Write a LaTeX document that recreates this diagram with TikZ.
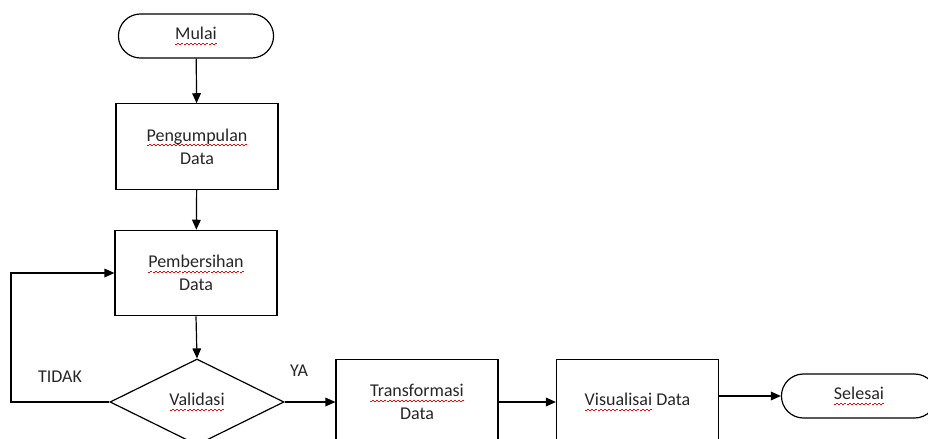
\documentclass[tikz,border=0pt]{standalone}
\usepackage{fontspec}
\setmainfont{Carlito}
\usetikzlibrary{arrows.meta,shapes.misc,shapes.geometric}
\newsavebox\kata
\newcommand\salah[1]{\sbox\kata{#1}\rlap{\usebox\kata}\textcolor{red}{\hbox to \wd\kata{\xleaders\hbox{\rule[-3.8pt]{1.5pt}{0.8pt}\rule[-2.9pt]{1.5pt}{0.8pt}}\hfill}}}

\begin{document}
\begin{tikzpicture}[x=0.75pt,y=-0.75pt,line width=0.9pt,
        every node/.style={font=\fontsize{13.5}{17}\selectfont,align=center,text=black!85},
        terminal/.style={draw,rounded rectangle,minimum width=123pt,minimum height=33pt},
        proses/.style={draw,rectangle,minimum width=121.5pt,minimum height=64pt},
        keputusan/.style={draw,diamond,inner sep=0pt,minimum width=130.5pt,minimum height=64.5pt},
        panah/.style={-{Triangle[length=7.5pt,width=6.5pt]}}]
                \useasboundingbox (0,0) rectangle (928,439);
                \node[terminal] (mulai) at (196,36) {\salah{Mulai}};
                \node[proses] (kumpul) at (197,146.5) {\salah{Pengumpulan}\\Data};
                \node[proses] (bersih) at (196,273) {\salah{Pembersihan}\\Data};
                \node[keputusan] (validasi) at (197,402) {\salah{Validasi}};
                \node[proses] (transformasi) at (417,402) {\salah{Transformasi}\\Data};
                \node[proses] (visual) at (637.5,402) {\salah{Visualisai} Data};
                \node[terminal] (selesai) at (859,396) {\salah{Selesai}};
                \node (tidak) at (60,377) {TIDAK};
                \node (ya) at (299,371) {YA};
                \coordinate (balik) at (11,402);
                \draw[panah] (mulai) -- (kumpul);
                \draw[panah] (kumpul) -- (bersih);
                \draw[panah] (bersih.south) -- (validasi.north);
                \draw[panah] (validasi) -- (transformasi);
                \draw[panah] (transformasi) -- (visual);
                \draw[panah] (visual.east |- selesai.west) -- (selesai.west);
                \draw[panah] (validasi.west) -- (balik) |- (bersih.west);
\end{tikzpicture}
\end{document}
